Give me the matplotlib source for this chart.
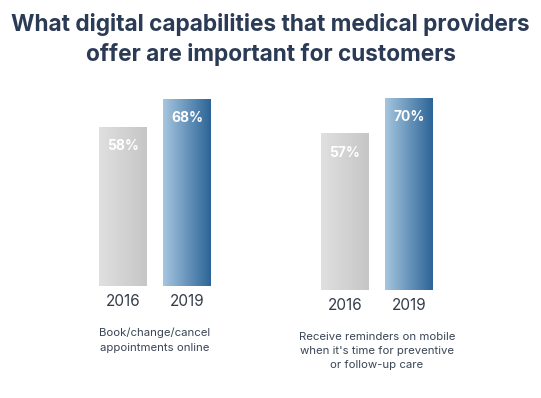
import numpy as np
import matplotlib
matplotlib.use('Agg')
import matplotlib.pyplot as plt
from matplotlib.colors import LinearSegmentedColormap

years = ['2016', '2019']
groups = ['Book/change/cancel\nappointments online',
          'Receive reminders on mobile\nwhen it\'s time for preventive\nor follow-up care']
values = [[58, 68], [57, 70]]

W, H = 541, 398
fig = plt.figure(figsize=(W / 100, H / 100), dpi=100)
plt.rcParams['font.family'] = ['Inter', 'DejaVu Sans']

fig.text(0.5, 1 - 39.5 / H, 'What digital capabilities that medical providers\noffer are important for customers',
         ha='center', va='center', fontsize=16.3, fontweight='bold', color='#2b3b55',
         linespacing=1.35)

gray_cm = LinearSegmentedColormap.from_list('g', ['#e0e0e0', '#c6c6c6'])
blue_cm = LinearSegmentedColormap.from_list('b', ['#a6c6e0', '#2c6497'])
grad = np.linspace(0, 1, 256).reshape(1, -1)

# (left px, baseline px) for each group axes
layout = [(59, 286), (281, 290)]
for (lpx, base), vals, name in zip(layout, values, groups):
    ax = fig.add_axes([lpx / W, 1 - base / H, 192 / W, 220 / H])
    ax.set_xlim(-1, 2)
    ax.set_ylim(0, 80)
    ax.axis('off')
    bars = ax.bar(range(len(years)), vals, width=0.75, color='none')
    for bar, cm, v in zip(bars, [gray_cm, blue_cm], vals):
        x0, w, h = bar.get_x(), bar.get_width(), bar.get_height()
        im = ax.imshow(grad, cmap=cm, aspect='auto', extent=[x0, x0 + w, 0, h], zorder=1)
        im.set_clip_path(bar)
        ax.annotate(f'{v}%', xy=(x0 + w / 2, h), xytext=(0, -14), textcoords='offset points',
                    ha='center', va='center', color='white', fontsize=10, fontweight='bold', zorder=3)
    for i, yr in enumerate(years):
        ax.annotate(yr, xy=(i, 0), xycoords='data', xytext=(0, -11.5), textcoords='offset points',
                    ha='center', va='center', fontsize=11, color='#333c48')
    ax.annotate(name, xy=(0.5, 0), xycoords='data', xytext=(0, -30), textcoords='offset points',
                ha='center', va='top', fontsize=8.2, color='#3a4656', linespacing=1.55)
    ax.set_xlim(-1, 2)
    ax.set_ylim(0, 80)

fig.savefig('out.png', dpi=100)
